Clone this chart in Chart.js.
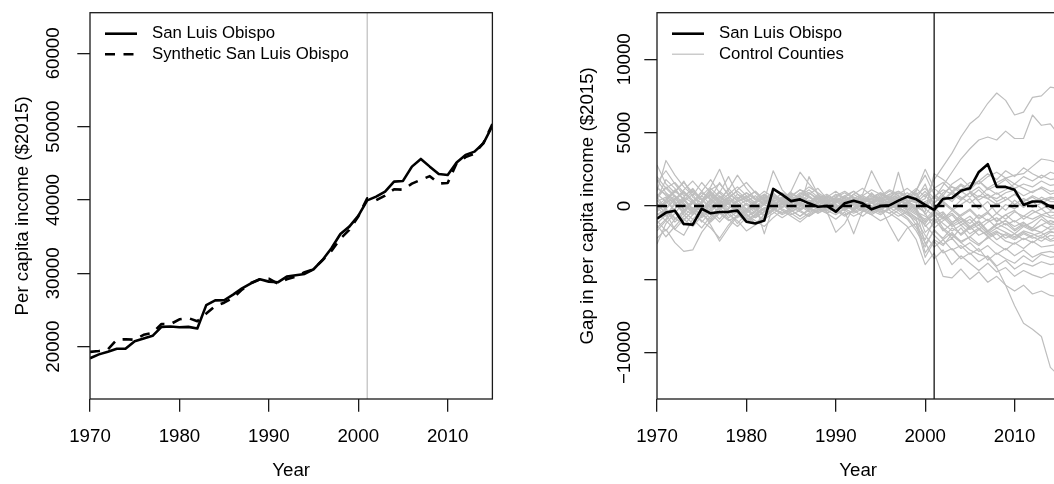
<!DOCTYPE html>
<html lang="en">
<head>
<meta charset="UTF-8">
<title>San Luis Obispo per capita income and synthetic control</title>
<style>
  html, body {
    margin: 0;
    padding: 0;
    background: #fff;
    width: 1054px;
    height: 484px;
    overflow: hidden;
  }
  canvas {
    position: absolute;
    top: 0;
  }
  #incomeChart { left: 0; }
  #gapChart { left: 527px; }
</style>
</head>
<body>
<canvas id="incomeChart" width="527" height="484"></canvas>
<canvas id="gapChart" width="560" height="484"></canvas>

<script src="https://cdn.jsdelivr.net/npm/chart.js"></script>
<script>
const years = [1970, 1971, 1972, 1973, 1974, 1975, 1976, 1977, 1978, 1979,
  1980, 1981, 1982, 1983, 1984, 1985, 1986, 1987, 1988, 1989,
  1990, 1991, 1992, 1993, 1994, 1995, 1996, 1997, 1998, 1999,
  2000, 2001, 2002, 2003, 2004, 2005, 2006, 2007, 2008, 2009,
  2010, 2011, 2012, 2013, 2014, 2015];

// per capita income, $2015
const sloIncome = [18420, 18950, 19320, 19720, 19740, 20750, 21120, 21480, 22700, 22750,
  22650, 22700, 22480, 25670, 26320, 26330, 27100, 27960, 28640, 29190,
  28870, 28780, 29550, 29740, 29920, 30560, 31830, 33420, 35370, 36370,
  37830, 39950, 40460, 41140, 42510, 42600, 44550, 45600, 44550, 43550,
  43420, 45100, 46150, 46600, 47740, 50100];

const syntheticIncome = [19290, 19400, 19640, 20950, 21010, 20940, 21620, 21890, 23100, 23070,
  23730, 23900, 23480, 24510, 25550, 26000, 26650, 27780, 28690, 29190,
  29260, 28600, 29190, 29560, 30150, 30560, 31790, 33060, 34730, 35920,
  37760, 40220, 39970, 40600, 41470, 41400, 42230, 42750, 43250, 42250,
  42320, 45030, 45850, 46300, 47790, 50350];

// gap = actual - synthetic
const sloGap = [-870, -450, -320, -1230, -1270, -190, -500, -410, -400, -320,
  -1080, -1200, -1000, 1160, 770, 330, 450, 180, -50, 0,
  -390, 180, 360, 180, -230, 0, 40, 360, 640, 450,
  70, -270, 490, 540, 1040, 1200, 2320, 2850, 1300, 1300,
  1100, 70, 300, 300, -50, -250];

// placebo gaps for the donor-pool counties
const controlGaps = [
  [1200, 800, 300, -400, 200, 900, 500, -200, 300, 600, 100, -300, 200, 700, 400, 800, 600, 300, 500, 200,
   400, 700, 300, 100, 600, 900, 500, 700, 400, 200, 500, 1800, 2700, 3600, 4700, 5600, 6100, 7000, 7700, 7200,
   6200, 6400, 7400, 7500, 8100, 8000],
  [-600, -200, 400, 900, 300, -500, 100, 600, 200, -300, -700, -400, 100, 500, 800, 300, 700, 1100, 600, 200,
   500, 300, 800, 400, 200, 600, 1000, 700, 300, 800, 1200, 500, 1400, 2300, 3200, 3900, 4500, 4700, 4500, 5100,
   4600, 4600, 6200, 5500, 5600, 4800],
  [2800, 1500, 900, 1700, 600, 200, 1100, 1500, 800, 400, -200, 300, 600, 200, -100, 400, 900, 600, 300, 700,
   200, 500, 100, 400, 800, 500, 200, 600, 900, 400, 1000, 200, 900, 1300, 1100, 1600, 1500, 2000, 2300, 1900,
   2100, 2200, 2700, 3200, 3100, 2900],
  [-1500, -900, 300, -600, -1200, -300, 400, -100, -800, -400, -900, -600, -200, 200, -100, 300, 100, -300, 200, 600,
   300, -100, 200, 500, 300, -200, 100, 2300, 200, -100, -400, 2200, 1800, 1300, 900, 1400, 1700, 1200, 1600, 1900,
   1500, 2000, 1700, 2100, 1800, 1900],
  [500, 1800, 1200, 400, -300, 700, 1300, 2500, 1000, 300, 700, 200, -300, 100, 500, 900, 400, 200, 800, 300,
   -200, 400, 600, 200, 900, 300, 500, 100, 600, 1000, 2500, 1200, 700, 1500, 1900, 1300, 1700, 1100, 1400, 1800,
   1200, 1500, 1300, 1700, 1400, 1500],
  [-2600, -1200, -500, 300, 800, -200, -900, 100, 600, 200, -300, 300, 500, -100, 200, 700, 1100, 900, 400, 100,
   600, 900, 500, 800, 2400, 1200, 300, 500, 100, -200, 300, 600, 1100, 800, 400, 900, 1300, 700, 500, 900,
   1100, 700, 1000, 1200, 800, 1000],
  [300, 600, -400, -1000, -300, 200, -500, -1100, -400, 100, -200, -800, -400, 400, 900, 600, 300, 800, 1200, 500,
   100, -300, 300, 700, 400, 800, 500, 200, -200, -600, -900, -300, 300, 900, 1400, 1000, 600, 1200, 800, 1100,
   1500, 1200, 900, 1300, 1000, 1100],
  [1600, 2400, 1500, 700, 1100, 400, 1200, 600, 100, 800, 500, 1000, 400, 2400, 1100, 500, 200, 600, 300, -100,
   200, 600, 1000, 500, 200, 400, 700, 300, 600, 200, 800, -200, 400, 900, 600, 200, 700, 500, 100, 400,
   800, 300, 600, 200, 500, 400],
  [-300, 400, 1000, 500, -200, -700, 300, 900, 2000, 800, 300, 700, 100, -300, 200, -100, 500, 200, -200, 100,
   600, 300, -400, -100, 300, 100, -200, 300, 700, 400, 100, 600, 200, -300, 100, 500, -200, 300, -500, 100,
   -200, 300, -100, 200, -300, 0],
  [1000, 3100, 2100, 1300, 700, 1600, 900, 300, 1200, 500, 900, 400, 800, 300, -100, 600, 1100, 700, 200, 500,
   100, -200, 300, 700, 1100, 800, 400, 900, 500, 1100, 2100, 800, 300, -200, 400, 900, 300, -400, 200, -300,
   400, -100, 300, -200, 100, -100],
  [-800, -300, -1100, -500, 300, -100, -600, -200, 400, 100, -400, -100, 300, -200, -600, -300, 200, -100, -500, -200,
   100, -300, -700, -400, 0, -200, -500, -100, -400, -800, -1200, -400, -900, -300, -800, -1200, -600, -1000, -500, -900,
   -400, -700, -300, -600, -400, -500],
  [200, -500, -1600, -2000, -900, -300, 500, 1600, 700, -100, -500, -1200, -800, -300, 100, -400, -100, 2000, 800, -500,
   -100, 200, -300, 100, -200, 300, 100, -300, 200, 500, 1500, -100, -700, -1200, -600, -200, -800, -400, -1100, -600,
   -300, -900, -500, -200, -700, -500],
  [-1700, -1000, -200, 500, -300, -1100, -400, 200, -600, -1000, -1700, -1300, -800, -200, 300, -100, -400, -700, -300, 100,
   -200, -600, -300, 200, -100, -400, -200, 100, -300, 100, -500, -1500, -1000, -600, -1300, -900, -1600, -1100, -800, -1300,
   -1000, -1400, -1100, -700, -1200, -1000],
  [500, 1300, 700, -300, 300, 1000, 1800, 900, 300, -300, 100, -500, -200, 300, 600, 200, -200, 200, 700, 400,
   -100, 200, 500, 200, -300, 100, 400, 600, 300, -100, -1400, -800, -1700, -1200, -2000, -1500, -1100, -1800, -1300, -1000,
   -1600, -1200, -1500, -900, -1300, -1200],
  [-400, 200, 500, -200, -600, 100, -300, -900, -200, 300, 500, 100, -1900, 0, 400, 900, 500, 100, -200, 300,
   800, 500, 200, -100, 200, 500, 800, 1000, 600, 300, -200, -700, -400, -1100, -800, -1400, -1000, -1700, -1200, -1500,
   -1900, -1400, -1700, -1300, -1600, -1500],
  [1300, 700, 100, 600, 1200, 400, -200, 300, 800, 1300, 700, 200, 500, 900, 300, 100, -300, 100, 500, 800,
   400, 100, -200, 200, 500, 300, -100, 200, 400, -200, -1800, -1200, -800, -1400, -1100, -1600, -1300, -1900, -1500, -1800,
   -2100, -1700, -1900, -2200, -1800, -1800],
  [-1000, -1700, -900, -300, 400, -500, -1100, -500, -1000, -700, -200, -600, -900, -500, -100, 300, 0, -400, -100, 200,
   -200, 300, 100, -300, -600, -200, 200, -100, 300, -300, -2600, -1700, -2200, -1500, -1900, -1400, -2000, -1700, -2300, -1900,
   -2200, -1800, -2100, -2400, -2000, -2100],
  [2000, 1200, 1600, 900, 300, -200, 400, 1000, 500, -100, -400, 200, 700, 300, 600, 200, 800, 1300, 900, 500,
   200, 600, 300, -200, -500, -100, 300, -100, -500, -900, -3200, -2300, -2700, -1900, -2400, -2100, -1600, -2000, -1700, -2200,
   -1900, -2300, -2000, -1800, -2300, -2000],
  [-1200, -600, 100, -400, -900, -1500, -700, -100, 200, -300, -800, -300, 200, 700, 200, -300, -700, -200, 300, 0,
   -500, -200, 200, -100, -400, 0, 300, -200, -600, -1000, -2000, -2800, -2300, -1800, -2500, -2100, -2600, -2200, -1900, -2400,
   -2600, -2200, -2500, -2100, -2400, -2300],
  [600, -200, -800, -1300, -600, 300, 800, 200, -400, -1200, -500, 0, 400, -100, -500, -200, 300, 600, 200, -300,
   -100, 300, -300, -700, -200, 200, -300, -700, -400, -1300, -2300, -900, -1600, -2200, -1500, -2300, -2700, -2100, -2600, -3000,
   -2500, -2900, -2400, -2800, -2700, -2600],
  [-2200, -1600, -2500, -3100, -3000, -1800, -1000, -400, -900, -1400, -800, -1200, -600, -200, -500, -100, 200, -200, -500, -100,
   300, 0, -300, 100, -300, -600, -200, 100, -300, -800, -1300, -2000, -2600, -2200, -2900, -2500, -3100, -2700, -3300, -2900,
   -3400, -3000, -3500, -3200, -3100, -3300],
  [100, -500, -200, 600, 200, -400, -1300, -2400, -1500, -700, -300, -800, -400, 100, -300, -600, -300, 100, -200, -500,
   -100, 300, 0, -400, -100, 200, -100, -500, -900, -1700, -2800, -1600, -2300, -3000, -2700, -3300, -2900, -3700, -3200, -3600,
   -3900, -3400, -3800, -3300, -3500, -3400],
  [-900, -100, 500, 1000, 400, -300, 200, 700, 200, -500, -1000, -600, -100, -400, -800, -400, 0, 400, 100, -300,
   -600, -200, -500, -200, 200, -100, -1300, -2400, -1500, -1200, -3500, -2400, -3200, -2900, -3600, -3200, -3800, -3400, -4100, -3700,
   -4300, -3900, -4100, -3800, -4000, -3900],
  [-1300, -2100, -1400, -700, -100, -600, -1000, -300, 200, -200, -600, -1000, -1400, -800, -300, -700, -1100, -600, -200, -500,
   -900, -400, -1900, -300, -600, -1000, -700, -300, -800, -1500, -2500, -3600, -3000, -4000, -3400, -3900, -4400, -3900, -4500, -4200,
   -4800, -4400, -4700, -4900, -4600, -4700],
  [400, -300, -900, -400, 200, 700, 100, -500, -200, 300, 600, 1000, 400, 100, 500, 200, -300, 200, 600, 300,
   0, -300, 100, 500, 200, -200, -500, -900, -1400, -2300, -4000, -3200, -4800, -4900, -4300, -5000, -4500, -5200, -4800, -5400,
   -5800, -5400, -6000, -5800, -6100, -6200],
  [700, 1200, 600, 100, -500, 200, 900, 400, -100, 400, 900, 500, 100, -300, 200, 500, 100, -200, 300, 700,
   400, 100, 500, 200, -100, 400, 800, 500, 100, -300, -1000, -500, -1500, -2000, -2500, -3000, -3300, -3500, -4200, -5400,
   -6800, -8000, -8400, -8900, -11000, -11600],
  [-200, 300, -300, -900, -1400, -700, -200, 400, 100, -300, 200, -200, -700, -300, 100, 400, 700, 300, 0, 400,
   700, 1000, 600, 300, 700, 400, 100, -200, 300, 600, 100, -400, 300, -200, -700, -300, -900, -500, -1000, -600,
   -1100, -700, -900, -600, -800, -900],
  [1800, 900, 400, 1100, 1700, 1000, 400, -100, 500, 1100, 1600, 900, 300, 800, 400, 1000, 2300, 1500, 800, 300,
   -100, 300, 800, 1200, 700, 300, 600, 1000, 700, 1200, 600, 1200, 1600, 1000, 500, 900, 400, 800, 300, 600,
   100, 500, 200, 600, 300, 300],
  [-500, -1000, -1600, -900, -400, -1000, -1500, -2200, -1300, -600, -1100, -700, -200, 200, -200, -500, -900, -500, -100, -400,
   -1800, -1200, -100, 300, 0, -300, 100, 400, 0, -400, -700, -1100, -500, -1300, -900, -1500, -1100, -1700, -1300, -1000,
   -1400, -1100, -1600, -1300, -1000, -1200],
  [800, 300, 1000, 1600, 900, 400, 1000, 400, -300, -800, -300, 300, 800, 400, -100, 300, 600, 900, 500, 100,
   -300, -700, -300, 200, 500, 900, 600, 200, -100, -500, -1100, -600, -1200, -1700, -1300, -1900, -1500, -2100, -1800, -2000,
   -2300, -1900, -2200, -2000, -1700, -2000],
  [-100, -700, -200, 400, 1000, 500, -100, 500, 1100, 2100, 1200, 500, 1000, 600, 200, 700, 300, -100, -400, 0,
   300, 700, 1000, 600, 300, 700, 1100, 800, 1200, 700, -600, 200, 700, 300, 1000, 600, 1100, 500, 900, 400,
   800, 300, 700, 400, 600, 500],
  [0, 500, 1100, 400, -200, 300, 700, 100, -500, 0, 400, -100, -600, -200, 200, -300, -700, -300, 200, 600,
   1000, 500, 200, -100, 300, 600, 200, -100, 300, 0, 300, -300, -800, -500, -1100, -700, -1300, -900, -1500, -1200,
   -1700, -1300, -1600, -1800, -1400, -1500],
  [-300, 200, 700, 200, -400, -800, -300, 200, 600, 1000, 500, 0, -400, 0, 400, 100, -300, -700, -300, 200,
   500, 200, -200, 300, -100, -500, -200, 200, 500, 900, -200, 700, 400, 1000, 1500, 1100, 1700, 2200, 1800, 2400,
   2000, 2600, 2200, 1900, 2300, 2100]
];

const yearTicks = [1970, 1980, 1990, 2000, 2010];
const incomeTicks = [20000, 30000, 40000, 50000, 60000];
const incomeTickLabels = ['20000', '30000', '40000', '50000', '60000'];
const gapTicks = [-10000, -5000, 0, 5000, 10000];
// the -5000 label is left off, as the plotting device drops labels that would overlap
const gapTickLabels = ['\u221210000', '', '0', '5000', '10000'];
const treatmentYear = 2001;

const INCOME_MIN = 12865, INCOME_MAX = 65540;
const GAP_MIN = -13160, GAP_MAX = 13175;

Chart.defaults.font.family = '"Liberation Sans", Arial, Helvetica, sans-serif';
Chart.defaults.font.size = 18.7;
Chart.defaults.color = '#000';

const points = vals => years.map((yr, i) => ({ x: yr, y: vals[i] }));

// R-style box around the plotting region
const plotFrame = {
  id: 'plotFrame',
  afterDatasetsDraw(chart) {
    const { ctx, chartArea: a } = chart;
    ctx.save();
    ctx.strokeStyle = '#1a1a1a';
    ctx.lineWidth = 1.3;
    ctx.strokeRect(a.left, a.top, a.right - a.left, a.bottom - a.top);
    ctx.restore();
  }
};

// borderless legend in the top-left corner of the plot
const insetLegend = {
  id: 'insetLegend',
  afterDraw(chart) {
    const { ctx, chartArea: a } = chart;
    const entries = chart.data.datasets.filter(d => d.legendText);
    ctx.save();
    ctx.font = '16.8px "Liberation Sans", Arial, Helvetica, sans-serif';
    ctx.textBaseline = 'middle';
    ctx.textAlign = 'left';
    entries.forEach((d, i) => {
      const y = a.top + 21 + i * 20.5;
      ctx.beginPath();
      ctx.strokeStyle = d.borderColor;
      ctx.lineWidth = d.borderWidth;
      ctx.setLineDash(d.borderDash || []);
      ctx.moveTo(a.left + 15, y);
      ctx.lineTo(a.left + 47, y);
      ctx.stroke();
      ctx.fillStyle = '#000';
      ctx.fillText(d.legendText, a.left + 62, y);
    });
    ctx.restore();
  }
};

function yearAxis() {
  return {
    type: 'linear',
    min: 1970,
    max: 2015,
    afterBuildTicks: s => { s.ticks = yearTicks.map(v => ({ value: v })); },
    afterFit: s => { s.height = 85; },
    ticks: { autoSkip: false, maxRotation: 0, padding: 13.8, callback: v => String(v) },
    grid: { drawOnChartArea: false, tickLength: 12.7, color: '#1a1a1a', lineWidth: 1.3 },
    border: { display: false },
    title: { display: true, text: 'Year', padding: { top: 0, bottom: 1.8 } }
  };
}

function valueAxis(min, max, tickValues, tickLabels, axisWidth, labelPad, titleText, titlePad) {
  return {
    type: 'linear',
    min: min,
    max: max,
    afterBuildTicks: s => { s.ticks = tickValues.map(v => ({ value: v })); },
    afterFit: s => { s.width = axisWidth; },
    ticks: {
      autoSkip: false,
      minRotation: 90,
      maxRotation: 90,
      crossAlign: 'center',
      padding: labelPad,
      callback: (v, i) => tickLabels[i]
    },
    grid: { drawOnChartArea: false, tickLength: 12.7, color: '#1a1a1a', lineWidth: 1.3 },
    border: { display: false },
    title: { display: true, text: titleText, padding: { top: titlePad, bottom: 0 } }
  };
}

const lineStyle = { pointRadius: 0, tension: 0, borderJoinStyle: 'round', fill: false };

// left: actual vs synthetic income
new Chart(document.getElementById('incomeChart'), {
  type: 'line',
  data: {
    datasets: [
      { ...lineStyle, data: points(sloIncome), borderColor: '#000', borderWidth: 2.6, legendText: 'San Luis Obispo' },
      { ...lineStyle, data: points(syntheticIncome), borderColor: '#000', borderWidth: 2.6, borderDash: [10, 8.5], legendText: 'Synthetic San Luis Obispo' },
      { ...lineStyle, data: [{ x: treatmentYear, y: INCOME_MIN }, { x: treatmentYear, y: INCOME_MAX }], borderColor: '#bebebe', borderWidth: 1.2 }
    ]
  },
  options: {
    responsive: false,
    animation: false,
    devicePixelRatio: 1,
    layout: { padding: { left: 0, top: 12.7, right: 34.6, bottom: 0 } },
    plugins: { legend: { display: false }, tooltip: { enabled: false } },
    scales: {
      x: yearAxis(),
      y: valueAxis(INCOME_MIN, INCOME_MAX, incomeTicks, incomeTickLabels, 90, -2.9, 'Per capita income ($2015)', 11.7)
    }
  },
  plugins: [plotFrame, insetLegend]
});

// right: gaps for San Luis Obispo and the placebo counties
const controlSets = controlGaps.map((vals, i) => ({
  ...lineStyle,
  data: points(vals),
  borderColor: '#bebebe',
  borderWidth: 1.2,
  legendText: i === 0 ? 'Control Counties' : undefined
}));

new Chart(document.getElementById('gapChart'), {
  type: 'line',
  data: {
    datasets: [
      { ...lineStyle, data: points(sloGap), borderColor: '#000', borderWidth: 2.6, legendText: 'San Luis Obispo' },
      { ...lineStyle, data: [{ x: years[0], y: 0 }, { x: years[years.length - 1], y: 0 }], borderColor: '#000', borderWidth: 2.6, borderDash: [10, 8.5] },
      { ...lineStyle, data: [{ x: treatmentYear, y: GAP_MIN }, { x: treatmentYear, y: GAP_MAX }], borderColor: '#000', borderWidth: 1.2 },
      ...controlSets
    ]
  },
  options: {
    responsive: false,
    animation: false,
    devicePixelRatio: 1,
    layout: { padding: { left: 0, top: 12.7, right: 27.7, bottom: 0 } },
    plugins: { legend: { display: false }, tooltip: { enabled: false } },
    scales: {
      x: yearAxis(),
      y: valueAxis(GAP_MIN, GAP_MAX, gapTicks, gapTickLabels, 130, -12.2, 'Gap in per capita income ($2015)', 49.7)
    }
  },
  plugins: [plotFrame, insetLegend]
});
</script>
</body>
</html>
